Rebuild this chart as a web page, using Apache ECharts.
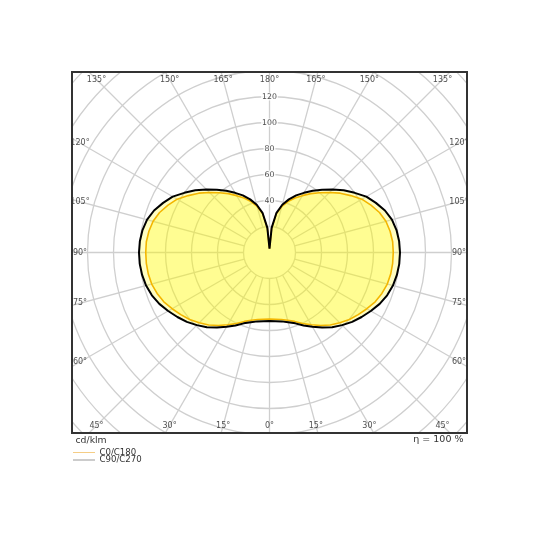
<!DOCTYPE html>
<html>
<head>
<meta charset="utf-8">
<script src="https://cdn.jsdelivr.net/npm/echarts@6/dist/echarts.min.js"></script>
<style>html,body{margin:0;padding:0;background:#fff}#c{width:540px;height:540px}</style>
</head>
<body>
<div id="c"></div>
<script>
// Angles (degrees from nadir) for one half of the symmetric diagram
const halfAngles = [0,5,10,15,20,25,30,35,40,45,50,55,60,65,70,75,80,85,90,95,100,105,110,115,120,125,130,135,140,145,150,155,160,165,170,175,180];
// C0/C180 plane (cd/klm)
const c0c180 = [51.2,51.5,52.3,54,56.4,60.3,64.2,68.5,72.8,76.5,80.2,83.3,86.5,89.7,92,93.8,94.7,95.1,95.2,95.1,94.2,92.7,90,86.1,82,76.3,71,65.2,60,55.3,50.5,46.3,41.7,36.7,30.2,18.6,3];
// C90/C270 plane (cd/klm)
const c90c270 = [52.7,53,53.8,55.5,58,62,66,70.5,75,79,83,86.5,90,93.5,96.3,98.3,99.5,100.2,100.4,100.1,99.2,97.5,94.5,90.3,86,80,74.5,68.5,63,58,53,48.5,43.5,38,31,19,3];
// Grid / tick definitions
const gridAngles = [0,15,30,45,60,75,90,105,120,135,150,165,180,195,210,225,240,255,270,285,300,315,330,345];
const radialTicks = [40,60,80,100,120];
const unitLabel = 'cd/klm';
const effLabel = 'η = 100 %';
const names = ['C0/C180','C90/C270'];

const chart = echarts.init(document.getElementById('c'));
const CX = 269.5, CY = 252.5, PXU = 1.3, RMAX = 220;
const FX = 72, FY = 72, FW = 395, FH = 361;
const insetHW = FW/2 - 8, insetHH = FH/2 - 7.5;

function fullCurve(vals){
  const d = halfAngles.map((a,i)=>[vals[i], a]);
  for (let i = halfAngles.length - 2; i >= 0; i--) d.push([vals[i], 360 - halfAngles[i]]);
  return d;
}
function labelRadius(a){
  const t = a*Math.PI/180;
  const s = Math.abs(Math.sin(t)), c = Math.abs(Math.cos(t));
  const d = Math.min(s > 1e-6 ? insetHW/s : 1e9, c > 1e-6 ? insetHH/c : 1e9);
  return d / PXU;
}
const gridColor = '#cfcfcf';
const series = [];
gridAngles.forEach(a => series.push({
  type:'line', coordinateSystem:'polar', data:[[20,a],[RMAX,a]], symbol:'none', silent:true, z:1,
  lineStyle:{color:gridColor, width:1.3}, clip:false
}));
series.push({
  name:names[0], type:'line', coordinateSystem:'polar', data:fullCurve(c0c180), symbol:'none', z:3,
  lineStyle:{color:'#f0a000', width:1.6}, areaStyle:{color:'rgba(255,252,0,0.35)'}
});
series.push({
  name:names[1], type:'line', coordinateSystem:'polar', data:fullCurve(c90c270), symbol:'none', z:4,
  lineStyle:{color:'#000', width:2}, areaStyle:{color:'rgba(255,252,0,0.35)'}
});
series.push({
  type:'scatter', coordinateSystem:'polar', symbolSize:0, silent:true, z:5,
  data: radialTicks.map(r => [r, 180]),
  label:{show:true, position:'inside', formatter:p=>String(p.value[0]), color:'#222', fontSize:7.8,
         fontFamily:'DejaVu Sans', backgroundColor:'#fff', padding:[0,1]}
});
series.push({
  type:'scatter', coordinateSystem:'polar', symbolSize:0, silent:true, z:5,
  data: gridAngles.map(a => [labelRadius(a), a]),
  label:{show:true, position:'inside', color:'#222', fontSize:8, fontFamily:'DejaVu Sans',
         formatter:p=>{const a=p.value[1]; return (a<=180?a:360-a)+'°';}}
});

const Z = 100;
chart.setOption({
  animation:false,
  backgroundColor:'#fff',
  polar:{center:[CX, CY], radius: RMAX*PXU},
  angleAxis:{type:'value', min:0, max:360, startAngle:270, clockwise:true,
    axisLine:{show:false}, axisTick:{show:false}, axisLabel:{show:false}, splitLine:{show:false}},
  radiusAxis:{type:'value', min:0, max:RMAX, interval:20,
    axisLine:{show:false}, axisTick:{show:false}, axisLabel:{show:false},
    splitLine:{show:true, lineStyle:{color:gridColor, width:1.3}}},
  series: series,
  graphic:[
    {type:'rect', z:Z, silent:true, shape:{x:0,y:0,width:540,height:FY}, style:{fill:'#fff'}},
    {type:'rect', z:Z, silent:true, shape:{x:0,y:FY+FH,width:540,height:540-FY-FH}, style:{fill:'#fff'}},
    {type:'rect', z:Z, silent:true, shape:{x:0,y:0,width:FX,height:540}, style:{fill:'#fff'}},
    {type:'rect', z:Z, silent:true, shape:{x:FX+FW,y:0,width:540-FX-FW,height:540}, style:{fill:'#fff'}},
    {type:'rect', z:Z+1, silent:true, shape:{x:FX,y:FY,width:FW,height:FH}, style:{fill:null, stroke:'#333', lineWidth:2}},
    {type:'text', z:Z+1, silent:true, x:75.5, y:440.5, style:{text:unitLabel, fill:'#333', fontSize:9.3, fontFamily:'DejaVu Sans', verticalAlign:'middle', align:'left'}},
    {type:'text', z:Z+1, silent:true, x:463.5, y:439.5, style:{text:effLabel, fill:'#333', fontSize:9.5, fontFamily:'DejaVu Sans', verticalAlign:'middle', align:'right'}},
    {type:'line', z:Z+1, silent:true, shape:{x1:73,y1:452.5,x2:95,y2:452.5}, style:{stroke:'#f5cd85', lineWidth:1}},
    {type:'text', z:Z+1, silent:true, x:99.5, y:452.5, style:{text:names[0], fill:'#333', fontSize:8.6, fontFamily:'DejaVu Sans', verticalAlign:'middle', align:'left'}},
    {type:'line', z:Z+1, silent:true, shape:{x1:73,y1:460,x2:95,y2:460}, style:{stroke:'#999', lineWidth:1}},
    {type:'text', z:Z+1, silent:true, x:99.5, y:460, style:{text:names[1], fill:'#333', fontSize:8.6, fontFamily:'DejaVu Sans', verticalAlign:'middle', align:'left'}}
  ]
});
</script>
</body>
</html>
